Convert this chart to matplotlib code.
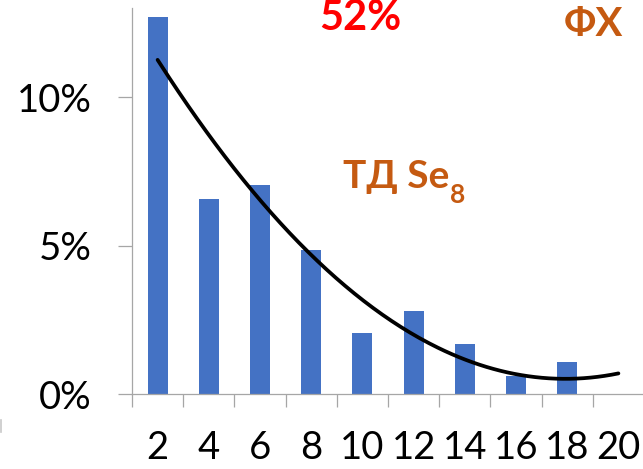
import numpy as np
import matplotlib
matplotlib.use("Agg")
import matplotlib.pyplot as plt
from matplotlib.lines import Line2D

plt.rcParams['font.family'] = ['Lato', 'Open Sans', 'DejaVu Sans']

# Cluster size (number of atoms) and share of clusters, %
sizes = [2, 4, 6, 8, 10, 12, 14, 16, 18, 20]
shares = [12.71, 6.57, 7.06, 4.87, 2.05, 2.81, 1.71, 0.62, 1.10, 0.0]
y_ticks = [0, 5, 10]

bar_color = '#4472C4'
axis_color = '#A6A6A6'
label_orange = '#C55A11'

W, H = 643, 469
fig = plt.figure(figsize=(W / 100, H / 100), dpi=100)
x0, x1, y0, y1 = 132, 644, 394.3, 8.3
ax = fig.add_axes([x0 / W, (H - y0) / H, (x1 - x0) / W, (y0 - y1) / H])

pos = np.arange(len(sizes))
ax.bar(pos, shares, width=0.39, color=bar_color, zorder=2)

# second-order polynomial trend over all categories
coef = np.polyfit(pos + 1, shares, 2)
xs = np.linspace(pos[0], pos[-1], 200)
ax.plot(xs, np.polyval(coef, xs + 1), color='black', lw=2.7, zorder=3,
        solid_capstyle='round')

ax.set_xlim(-0.5, len(sizes) - 0.5)
ax.set_ylim(0, 13)

for s in ['top', 'right']:
    ax.spines[s].set_visible(False)
for s in ['left', 'bottom']:
    ax.spines[s].set_color(axis_color)
    ax.spines[s].set_linewidth(0.9)

ax.set_yticks(y_ticks)
ax.set_yticklabels([f'{v}%' for v in y_ticks])
ax.tick_params(axis='y', length=10, width=0.9, color=axis_color,
               labelsize=27.5, pad=19)

ax.set_xticks(np.arange(len(sizes) + 1) - 0.5)
ax.set_xticklabels([])
ax.tick_params(axis='x', which='major', length=9.5, width=0.9, color=axis_color)
ax.set_xticks(pos, minor=True)
ax.set_xticklabels([str(s) for s in sizes], minor=True)
ax.tick_params(axis='x', which='minor', length=0, labelsize=27.5, pad=26)

fig.text(360 / W, 1 - 18 / H, '52%', color='#FF0000', fontsize=30,
         fontweight='bold', ha='center', va='center')
fig.text(593 / W, 1 - 24 / H, 'ФХ', color=label_orange, fontsize=29,
         fontweight='bold', ha='center', va='center')

t1 = fig.text(343 / W, 1 - 188 / H, 'ТД Se', color=label_orange, fontsize=28,
              fontweight='bold', ha='left', va='baseline')
fig.canvas.draw()
bb = t1.get_window_extent()
fig.text((bb.x1 + 1) / W, 1 - 203 / H, '8', color=label_orange, fontsize=19,
         fontweight='bold', ha='left', va='baseline')

fig.add_artist(Line2D([1 / W, 1 / W], [1 - 420 / H, 1 - 432 / H],
                      color='#C8C8C8', lw=1.2))

fig.savefig('out.png', dpi=100)
